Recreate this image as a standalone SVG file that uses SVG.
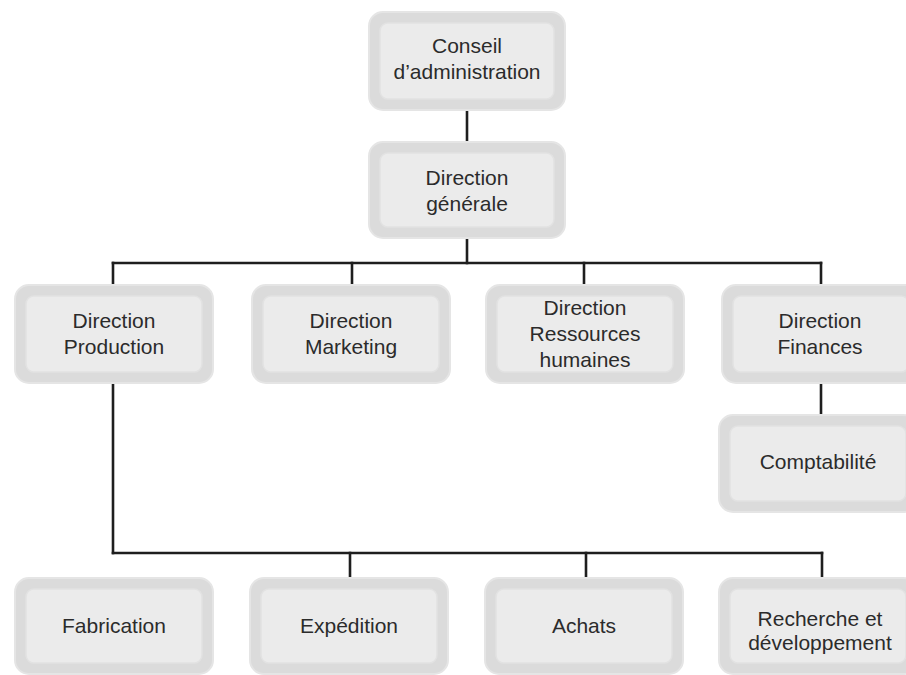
<svg xmlns="http://www.w3.org/2000/svg" width="906" height="675" viewBox="0 0 906 675">
<style>
.o{fill:#dbdbdb;stroke:#e5e5e5;stroke-width:2}
.i{fill:#ebebeb;stroke:#e2e2e2;stroke-width:1.5}
text{font-family:"Liberation Sans",Arial,sans-serif;font-size:21px;fill:#2b2b2b;text-anchor:middle}
.c line{stroke:#1e1e1e;stroke-width:2.6;stroke-linecap:square}
</style>
<rect width="906" height="675" fill="#fff"/>
<g class="c" id="connectors">
<line x1="467" y1="111" x2="467" y2="141"/>
<line x1="467" y1="239" x2="467" y2="263"/>
<line x1="113" y1="263" x2="821" y2="263"/>
<line x1="113" y1="263" x2="113" y2="284"/>
<line x1="352" y1="263" x2="352" y2="284"/>
<line x1="584" y1="263" x2="584" y2="284"/>
<line x1="821" y1="263" x2="821" y2="284"/>
<line x1="821" y1="384" x2="821" y2="414"/>
<line x1="113" y1="384" x2="113" y2="553"/>
<line x1="113" y1="553" x2="822" y2="553"/>
<line x1="350" y1="553" x2="350" y2="577"/>
<line x1="586" y1="553" x2="586" y2="577"/>
<line x1="822" y1="553" x2="822" y2="577"/>
</g>
<g id="conseil">
<rect class="o" x="369" y="12" width="196" height="98" rx="14"/>
<rect class="i" x="380" y="23" width="174" height="76" rx="8"/>
<text x="467" y="53">Conseil</text>
<text x="467" y="79">d’administration</text>
</g>
<g id="direction-generale">
<rect class="o" x="369" y="142" width="196" height="96" rx="14"/>
<rect class="i" x="380" y="153" width="174" height="74" rx="8"/>
<text x="467" y="185">Direction</text>
<text x="467" y="211">générale</text>
</g>
<g id="direction-production">
<rect class="o" x="15" y="285" width="198" height="98" rx="14"/>
<rect class="i" x="26" y="296" width="176" height="76" rx="8"/>
<text x="114" y="328">Direction</text>
<text x="114" y="354">Production</text>
</g>
<g id="direction-marketing">
<rect class="o" x="252" y="285" width="198" height="98" rx="14"/>
<rect class="i" x="263" y="296" width="176" height="76" rx="8"/>
<text x="351" y="328">Direction</text>
<text x="351" y="354">Marketing</text>
</g>
<g id="direction-rh">
<rect class="o" x="486" y="285" width="198" height="98" rx="14"/>
<rect class="i" x="497" y="296" width="176" height="76" rx="8"/>
<text x="585" y="315">Direction</text>
<text x="585" y="341">Ressources</text>
<text x="585" y="367">humaines</text>
</g>
<g id="direction-finances">
<rect class="o" x="722" y="285" width="198" height="98" rx="14"/>
<rect class="i" x="733" y="296" width="176" height="76" rx="8"/>
<text x="820" y="328">Direction</text>
<text x="820" y="354">Finances</text>
</g>
<g id="comptabilite">
<rect class="o" x="719" y="415" width="198" height="97" rx="14"/>
<rect class="i" x="730" y="426" width="176" height="75" rx="8"/>
<text x="818" y="469">Comptabilité</text>
</g>
<g id="fabrication">
<rect class="o" x="15" y="578" width="198" height="96" rx="14"/>
<rect class="i" x="26" y="589" width="176" height="74" rx="8"/>
<text x="114" y="633">Fabrication</text>
</g>
<g id="expedition">
<rect class="o" x="250" y="578" width="198" height="96" rx="14"/>
<rect class="i" x="261" y="589" width="176" height="74" rx="8"/>
<text x="349" y="633">Expédition</text>
</g>
<g id="achats">
<rect class="o" x="485" y="578" width="198" height="96" rx="14"/>
<rect class="i" x="496" y="589" width="176" height="74" rx="8"/>
<text x="584" y="633">Achats</text>
</g>
<g id="recherche">
<rect class="o" x="719" y="578" width="198" height="96" rx="14"/>
<rect class="i" x="730" y="589" width="176" height="74" rx="8"/>
<text x="820" y="626">Recherche et</text>
<text x="820" y="650">développement</text>
</g>
</svg>
